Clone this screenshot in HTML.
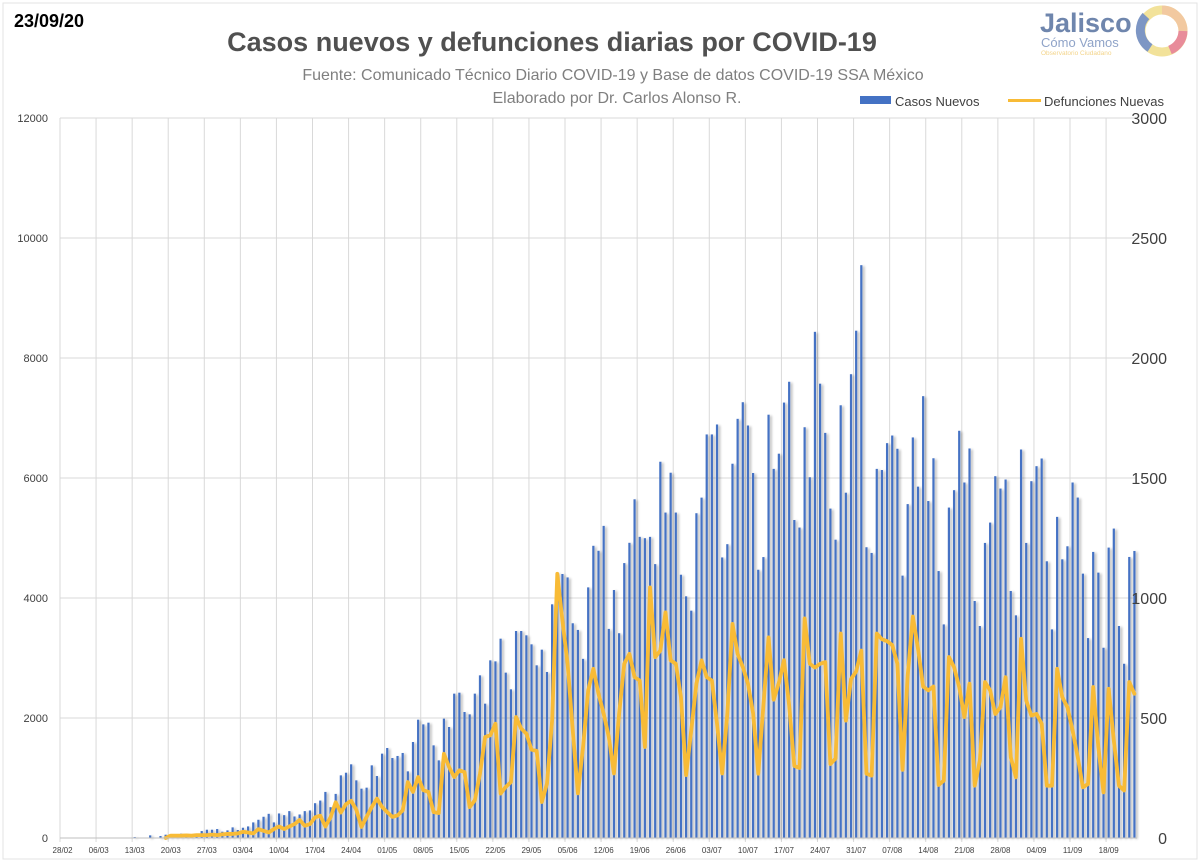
<!DOCTYPE html>
<html><head><meta charset="utf-8">
<style>
body{margin:0;background:#fff;}
#wrap{position:relative;width:1200px;height:862px;overflow:hidden;background:#fff;font-family:"Liberation Sans",sans-serif;}
svg text{font-family:"Liberation Sans","DejaVu Sans",sans-serif;}
</style></head>
<body>
<div id="wrap">
<svg id="chart" width="1200" height="862" viewBox="0 0 1200 862">
  <defs>
    <filter id="sh" x="-50%" y="-5%" width="250%" height="110%">
      <feGaussianBlur in="SourceAlpha" stdDeviation="1.2"/>
      <feOffset dx="2" dy="1" result="o"/>
      <feComponentTransfer><feFuncA type="linear" slope="0.3"/></feComponentTransfer>
      <feMerge><feMergeNode/><feMergeNode in="SourceGraphic"/></feMerge>
    </filter>
  </defs>
  <rect x="3" y="3" width="1194" height="856" fill="none" stroke="#e3e3e3" stroke-width="1"/>
  <text x="14" y="27" font-size="18" font-weight="bold" fill="#000">23/09/20</text>
  <text x="552" y="51" font-size="27" font-weight="bold" fill="#505050" text-anchor="middle">Casos nuevos y defunciones diarias por COVID-19</text>
  <text x="613" y="80" font-size="16" fill="#7f7f7f" text-anchor="middle">Fuente: Comunicado Técnico Diario COVID-19 y Base de datos COVID-19 SSA México</text>
  <text x="617" y="103" font-size="16" fill="#7f7f7f" text-anchor="middle">Elaborado por Dr. Carlos Alonso R.</text>
  <g>
    <text x="1040" y="32" font-size="27" font-weight="bold" fill="#6f86ad">Jalisco</text>
    <text x="1041" y="47" font-size="13" fill="#8fa3c8">Cómo Vamos</text>
    <text x="1041" y="55" font-size="6.5" fill="#f3d48a">Observatorio Ciudadano</text>
    <circle cx="1162" cy="31" r="21" fill="none" stroke="#f2e29a" stroke-width="9"/>
    <path d="M1162 10 A21 21 0 0 1 1183 31" fill="none" stroke="#f2c9a0" stroke-width="9"/>
    <path d="M1183 31 A21 21 0 0 1 1170 50" fill="none" stroke="#e88c9a" stroke-width="9"/>
    <path d="M1150 48 A21 21 0 0 1 1146 16" fill="none" stroke="#7d96c4" stroke-width="9"/>
  </g>
  <g>
    <rect x="860" y="96" width="31" height="8" fill="#4472c4"/>
    <text x="895" y="106" font-size="13" fill="#404040">Casos Nuevos</text>
    <rect x="1008" y="99" width="33" height="3" fill="#f8bb36"/>
    <text x="1044" y="106" font-size="13" fill="#404040">Defunciones Nuevas</text>
  </g>
  <g id="grid"></g>
  <g id="bars" filter="url(#sh)"></g>
  <g id="line"></g>
  <g id="axes"></g>
</svg>
</div>
<script>
const categoryStart = "2020-02-28";
const dayCount = 209;
const xTickLabels = ["28/02","06/03","13/03","20/03","27/03","03/04","10/04","17/04","24/04","01/05","08/05","15/05","22/05","29/05","05/06","12/06","19/06","26/06","03/07","10/07","17/07","24/07","31/07","07/08","14/08","21/08","28/08","04/09","11/09","18/09"];
const leftTicks = [0,2000,4000,6000,8000,10000,12000];
const rightTicks = [0,500,1000,1500,2000,2500,3000];
const casosNuevos = [0,0,0,0,0,0,0,0,0,0,0,0,0,0,15,0,0,44,0,33,
55,50,55,72,66,44,66,116,138,138,149,105,127,177,133,171,193,260,304,354,
403,260,409,381,448,359,392,448,459,580,624,768,514,735,1044,1088,1228,961,822,839,
1211,1033,1406,1500,1333,1367,1417,1111,1600,1972,1894,1922,1544,1294,1989,1850,2406,2422,2100,2061,
2406,2711,2239,2961,2944,3322,2756,2478,3450,3450,3378,3228,2878,3139,2767,3895,4420,4400,4343,3579,
3468,2986,4177,4870,4787,5202,3485,4133,3413,4582,4920,5645,5019,4997,5019,4565,6271,5424,6088,5424,
4388,4028,3789,5413,5673,6726,6726,6892,4676,4897,6238,6986,7263,6875,6083,4471,4682,7055,6152,6405,
7257,7604,5300,5174,6846,6013,8436,7572,6752,5490,4972,7212,5755,7730,8455,9547,4846,4751,6152,6133,
6581,6708,6487,4373,5565,6676,5856,7364,5616,6329,4449,3560,5507,5797,6787,5925,6492,3950,3533,4918,
5257,6030,5824,5975,4117,3711,6475,4918,5947,6197,6325,4612,3477,5352,4645,4862,5925,5674,4406,3332,
4768,4423,3171,4840,5157,3533,2904,4684,4784];
const defuncionesNuevas = [null,null,null,null,null,null,null,null,null,null,null,null,null,null,null,null,null,null,null,null,
0,10,10,10,11,10,12,12,12,14,12,15,17,17,19,26,23,19,37,30,
23,37,48,37,48,58,75,51,58,86,93,48,86,149,106,141,155,118,46,88,
129,164,129,108,88,94,115,233,192,254,199,192,108,104,351,296,254,282,275,129,
157,268,421,428,476,185,213,233,504,456,435,368,363,150,226,490,1101,906,726,449,
186,379,615,705,601,518,421,269,518,726,767,670,656,379,1044,753,781,940,740,726,
587,262,449,643,740,670,656,476,269,518,892,767,712,643,520,268,552,836,576,647,
741,552,300,292,915,726,710,726,733,308,331,852,489,662,694,781,268,260,852,828,
820,804,726,284,678,923,789,631,615,631,221,239,754,712,629,504,643,218,323,650,
615,517,545,670,337,253,830,573,510,517,476,218,218,705,587,545,448,337,211,225,
629,379,190,622,406,218,198,650,601];

const NS="http://www.w3.org/2000/svg";
const L=60, R=1137, T=118, B=838;
const bw=(R-L)/dayCount;
function xBand(i){return L+i*bw;}
function xCenter(i){return L+(i+0.5)*bw;}
function yLeft(v){return B-(v/12000)*(B-T);}
function yRight(v){return B-(v/3000)*(B-T);}
function mk(tag,attrs,parent){const e=document.createElementNS(NS,tag);for(const k in attrs)e.setAttribute(k,attrs[k]);parent.appendChild(e);return e;}

const grid=document.getElementById('grid');
const axes=document.getElementById('axes');
leftTicks.forEach((t,k)=>{
  const gl=mk('line',{x1:L,x2:R,y1:yLeft(t),y2:yLeft(t),stroke:'#d9d9d9','stroke-width':1},grid);
  
  
  const tl=mk('text',{x:L-12,y:yLeft(t)+4,'font-size':11,fill:'#404040','text-anchor':'end'},axes);
  tl.textContent=t;
  
  
});
rightTicks.forEach(t=>{
  const tl=mk('text',{x:1167,y:yRight(t)+6,'font-size':16,fill:'#404040','text-anchor':'end'},axes);
  tl.textContent=t;
  
  
});
xTickLabels.forEach((lab,k)=>{
  const i=k*7;
  const vl=mk('line',{x1:xBand(i),x2:xBand(i),y1:T,y2:B+4,stroke:'#d9d9d9','stroke-width':1},grid);
  
  
  const tl=mk('text',{x:xCenter(i),y:B+15,'font-size':8,fill:'#404040','text-anchor':'middle'},axes);
  tl.textContent=lab;
  
  
});
const bl=mk('line',{x1:L,x2:R,y1:B,y2:B,stroke:'#bfbfbf','stroke-width':1},axes);



const bars=document.getElementById('bars');
casosNuevos.forEach((v,i)=>{
  if(!v)return;
  const y=yLeft(v);
  const r=mk('rect',{x:xCenter(i)-1.1,y:y,width:2.2,height:B-y,fill:'#4472c4'},bars);
  
  
});
let d='';
defuncionesNuevas.forEach((v,i)=>{
  if(v===null)return;
  d+=(d?'L':'M')+xCenter(i).toFixed(2)+' '+yRight(v).toFixed(2)+' ';
});
const p=mk('path',{d:d,fill:'none',stroke:'#f8bb36','stroke-width':3.8,'stroke-linejoin':'round','stroke-linecap':'round'},document.getElementById('line'));


</script>
</body></html>
